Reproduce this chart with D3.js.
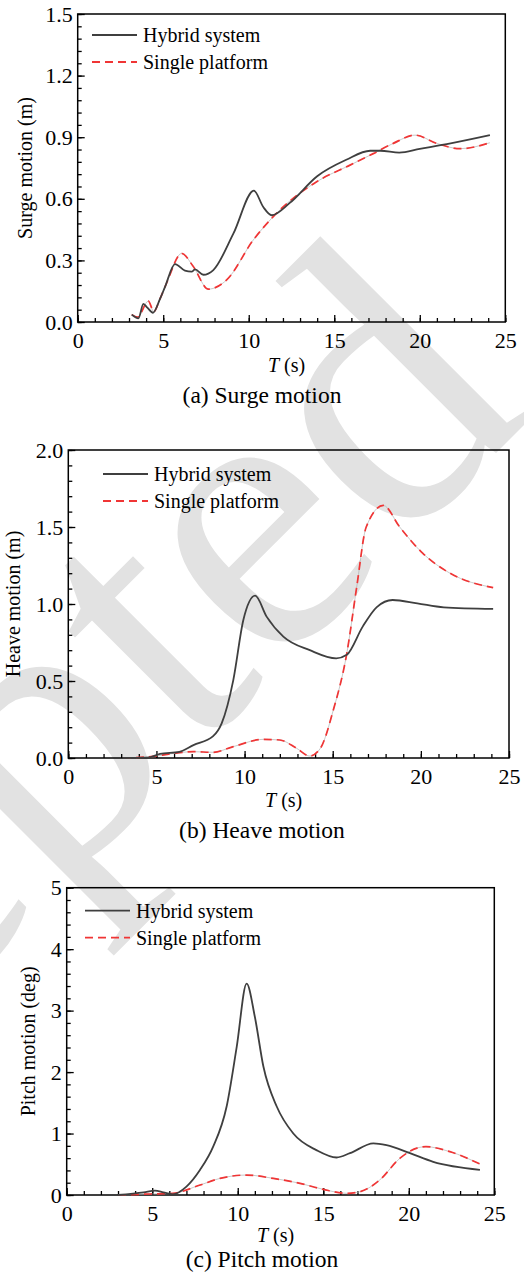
<!DOCTYPE html>
<html>
<head>
<meta charset="utf-8">
<script src="https://cdn.jsdelivr.net/npm/d3@7"></script>
<style>
  body { margin: 0; background: #fff; }
  text { font-family: "Liberation Serif", "Times New Roman", serif; }
</style>
</head>
<body>
<div id="chart-area"></div>
<script>
// Data -----------------------------------------------------
// (a) surge (m)
const surgeHybridT = [3.16, 3.55, 3.84, 4.07, 4.4, 4.8, 5.1, 5.69, 6.27, 6.66, 6.86, 7.35, 7.93, 9.1, 10.3, 10.85, 11.34, 12.4, 14.0, 15.7, 17.1, 17.7, 18.8, 20.0, 21.8, 24.1]
const surgeHybrid  = [0.036, 0.018, 0.088, 0.07, 0.045, 0.11, 0.17, 0.282, 0.25, 0.245, 0.256, 0.23, 0.253, 0.43, 0.64, 0.56, 0.52, 0.58, 0.71, 0.79, 0.834, 0.834, 0.825, 0.843, 0.87, 0.91]
const surgeSingleT = [3.16, 3.5, 4.13, 4.45, 4.8, 5.2, 6.08, 6.76, 7.64, 8.71, 10.27, 11.63, 13.97, 15.92, 17.28, 18.45, 19.72, 20.99, 22.35, 24.1]
const surgeSingle  = [0.036, 0.024, 0.102, 0.05, 0.11, 0.19, 0.334, 0.27, 0.16, 0.205, 0.40, 0.53, 0.683, 0.764, 0.82, 0.87, 0.91, 0.87, 0.844, 0.873]

// (b) heave (m)
const heaveHybridT = [3.1, 4.5, 5.2, 6.3, 7.1, 8.2, 8.7, 9.36, 9.93, 10.6, 11.25, 12.2, 13.7, 15.2, 15.8, 16.7, 17.5, 18.4, 19.8, 21.3, 24.1]
const heaveHybrid  = [0, 0.002, 0.026, 0.04, 0.084, 0.14, 0.225, 0.506, 0.896, 1.054, 0.918, 0.788, 0.70, 0.647, 0.67, 0.853, 0.98, 1.026, 1.004, 0.978, 0.968]
const heaveSingleT = [3.1, 4.8, 5.96, 7.1, 8.2, 9.36, 11.06, 12.0, 12.95, 13.7, 14.3, 15.03, 15.8, 16.36, 16.9, 17.87, 18.8, 20.1, 21.65, 24.1]
const heaveSingle  = [0, 0.01, 0.03, 0.041, 0.037, 0.074, 0.121, 0.117, 0.063, 0.013, 0.063, 0.31, 0.68, 1.11, 1.50, 1.64, 1.50, 1.33, 1.20, 1.106]

// (c) pitch (deg)
const pitchHybridT = [3.0, 4.5, 5.16, 5.65, 6.2, 7.0, 7.8, 8.57, 9.35, 9.94, 10.52, 11.0, 11.5, 12.28, 13.25, 14.6, 15.78, 16.56, 17.93, 18.7, 20.07, 21.43, 24.16]
const pitchHybrid  = [0, 0.043, 0.07, 0.043, 0.01, 0.136, 0.41, 0.79, 1.44, 2.41, 3.44, 2.9, 2.09, 1.44, 1.0, 0.73, 0.61, 0.68, 0.84, 0.81, 0.68, 0.54, 0.41]
const pitchSingleT = [3.0, 4.87, 6.2, 7.8, 8.96, 10.52, 12.08, 13.64, 15.0, 16.37, 17.15, 18.3, 19.49, 20.65, 21.0, 22.4, 24.16]
const pitchSingle  = [0, 0.016, 0.027, 0.163, 0.27, 0.325, 0.27, 0.19, 0.092, 0.027, 0.054, 0.244, 0.60, 0.776, 0.786, 0.705, 0.504]

const seriesNames = ["Hybrid system", "Single platform"]
const xTicks = [0, 5, 10, 15, 20, 25]

// Canvas setup -----------------------------------------
const WIDTH = 524
const HEIGHT = 1282
const FONT = "'Liberation Serif', 'Times New Roman', serif"
const HYBRID_COLOR = "#3f3f3f"
const SINGLE_COLOR = "#f03535"

const svg = d3.select("#chart-area").append("svg")
  .attr("width", WIDTH)
  .attr("height", HEIGHT)

// faint watermark behind everything
svg.append("text")
  .text("Accepted")
  .attr("transform", "translate(536,413) rotate(-45)")
  .attr("text-anchor", "end")
  .style("font-family", FONT)
  .attr("font-size", 400)
  .attr("fill", "#e2e2e2")

const panels = [
  { left: 77.7, right: 505.3, top: 14, bottom: 322, yMax: 1.5, yStep: 0.3, yMinor: 0.06, fmt: ".1f",
    ylabel: "Surge motion (m)", ylabelX: 32, titleOff: 50, captionY: 403, caption: "(a) Surge motion",
    legX: 14.3, legY: 21, hybrid: [surgeHybridT, surgeHybrid], single: [surgeSingleT, surgeSingle] },
  { left: 68.3, right: 509, top: 450, bottom: 758, yMax: 2.0, yStep: 0.5, yMinor: 0.1, fmt: ".1f",
    ylabel: "Heave motion (m)", ylabelX: 20, titleOff: 49, captionY: 838, caption: "(b) Heave motion",
    legX: 34.7, legY: 24, hybrid: [heaveHybridT, heaveHybrid], single: [heaveSingleT, heaveSingle] },
  { left: 66.7, right: 494.3, top: 887.7, bottom: 1195, yMax: 5, yStep: 1, yMinor: 0.2, fmt: "d",
    ylabel: "Pitch motion (deg)", ylabelX: 35, titleOff: 47, captionY: 1267, caption: "(c) Pitch motion",
    legX: 18.3, legY: 23, hybrid: [pitchHybridT, pitchHybrid], single: [pitchSingleT, pitchSingle] }
]

panels.forEach(drawPanel)

function drawPanel(p){
  const x = d3.scaleLinear().domain([0, 25]).range([p.left, p.right])
  const y = d3.scaleLinear().domain([0, p.yMax]).range([p.bottom, p.top])
  const g = svg.append("g")

  // minor ticks
  g.append("g")
    .attr("transform", `translate(0,${p.bottom})`)
    .call(d3.axisBottom(x).tickValues(d3.range(0, 25.01, 1)).tickSize(-4).tickFormat(""))
  g.append("g")
    .attr("transform", `translate(${p.left},0)`)
    .call(d3.axisLeft(y).tickValues(d3.range(0, p.yMax + 1e-6, p.yMinor)).tickSize(-4).tickFormat(""))

  // major ticks + labels
  g.append("g")
    .attr("transform", `translate(0,${p.bottom})`)
    .call(d3.axisBottom(x).tickValues(xTicks).tickSize(-7).tickPadding(10))
  g.append("g")
    .attr("transform", `translate(${p.left},0)`)
    .call(d3.axisLeft(y).tickValues(d3.range(0, p.yMax + 1e-6, p.yStep)).tickSize(-7).tickPadding(5)
      .tickFormat(d3.format(p.fmt)))

  g.selectAll(".domain").remove()
  g.selectAll(".tick line").attr("stroke", "#000").attr("stroke-width", 1.3)
  g.selectAll(".tick text")
    .attr("fill", "#000")
    .attr("font-size", 22)
    .style("font-family", FONT)

  // frame
  g.append("rect")
    .attr("x", p.left).attr("y", p.top)
    .attr("width", p.right - p.left).attr("height", p.bottom - p.top)
    .attr("fill", "none").attr("stroke", "#000").attr("stroke-width", 1.5)

  const line = d3.line()
    .x(d => x(d[0]))
    .y(d => y(d[1]))
    .curve(d3.curveMonotoneX)

  const hyb = d3.zip(p.hybrid[0], p.hybrid[1])
  const sgl = d3.zip(p.single[0], p.single[1])

  // dash-dot single platform: faint thin line under red dashes
  g.append("path").attr("d", line(sgl))
    .attr("fill", "none").attr("stroke", "#b0b0b0").attr("stroke-width", 0.7)
  g.append("path").attr("d", line(sgl))
    .attr("fill", "none").attr("stroke", SINGLE_COLOR).attr("stroke-width", 1.7)
    .attr("stroke-dasharray", "8,5")
  g.append("path").attr("d", line(hyb))
    .attr("fill", "none").attr("stroke", HYBRID_COLOR).attr("stroke-width", 1.8)

  // legend
  const lx = p.left + p.legX, ly = p.top + p.legY
  seriesNames.forEach((name, i) => {
    const yy = ly + i * 27
    g.append("line")
      .attr("x1", lx).attr("x2", lx + 45).attr("y1", yy).attr("y2", yy)
      .attr("stroke", i == 0 ? HYBRID_COLOR : SINGLE_COLOR)
      .attr("stroke-width", 1.8)
      .attr("stroke-dasharray", i == 0 ? null : "8,5")
    g.append("text")
      .attr("x", lx + 51).attr("y", yy + 7)
      .attr("font-size", 20)
      .style("font-family", FONT)
      .text(name)
  })

  // axis titles
  const xt = g.append("text")
    .attr("x", (p.left + p.right) / 2 - 5)
    .attr("y", p.bottom + p.titleOff)
    .attr("text-anchor", "middle")
    .attr("font-size", 20)
    .style("font-family", FONT)
  xt.append("tspan").attr("font-style", "italic").text("T")
  xt.append("tspan").text(" (s)")

  g.append("text")
    .attr("transform", `translate(${p.ylabelX},${(p.top + p.bottom) / 2}) rotate(-90)`)
    .attr("text-anchor", "middle")
    .attr("font-size", 20)
    .style("font-family", FONT)
    .text(p.ylabel)

  g.append("text")
    .attr("x", 262)
    .attr("y", p.captionY)
    .attr("text-anchor", "middle")
    .attr("font-size", 23.5)
    .style("font-family", FONT)
    .text(p.caption)
}
</script>
</body>
</html>
